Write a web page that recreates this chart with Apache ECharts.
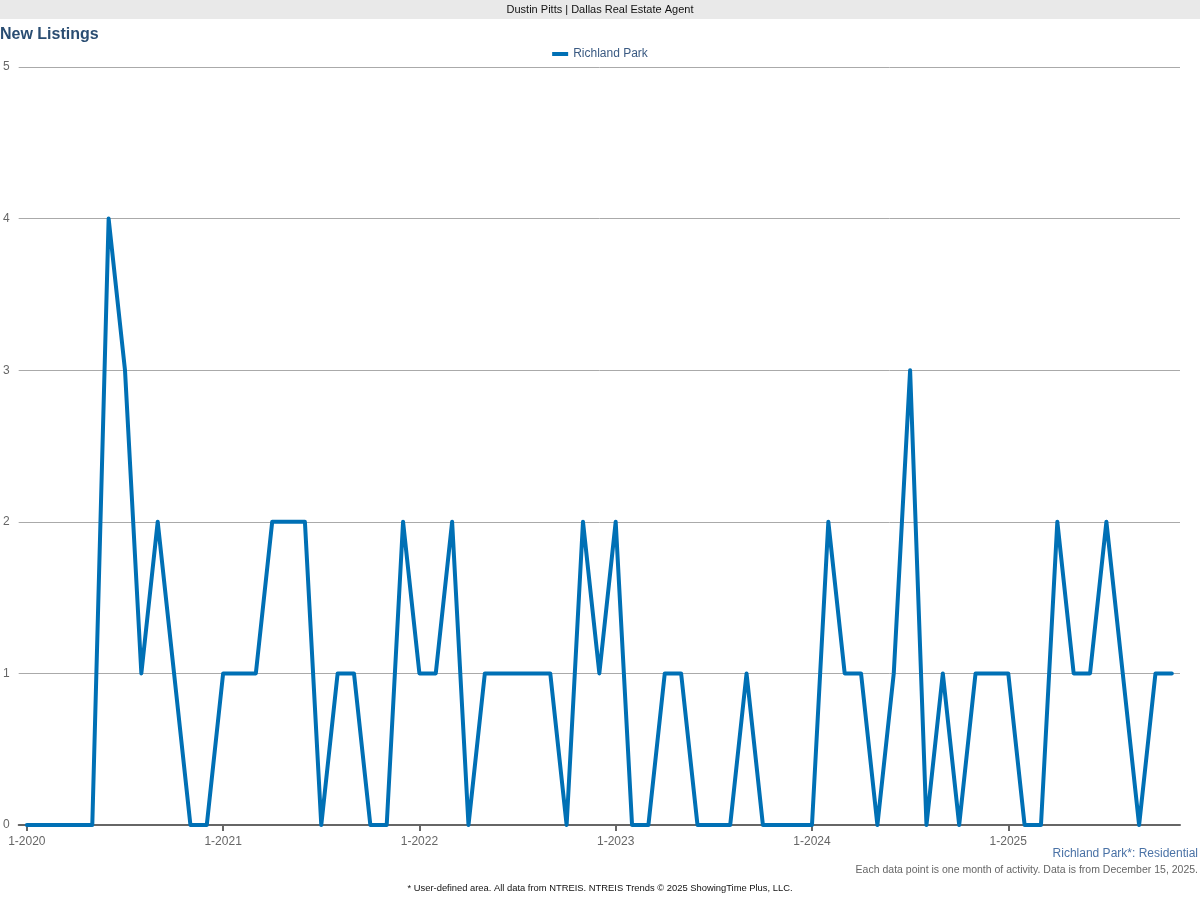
<!DOCTYPE html>
<html><head><meta charset="utf-8">
<script src="https://cdn.jsdelivr.net/npm/echarts@6/dist/echarts.min.js"></script>
<style>html,body{margin:0;padding:0;background:#fff}#c{width:1200px;height:900px}</style>
</head><body><div id="c"></div>
<script>
const years = [2020, 2021, 2022, 2023, 2024, 2025];
const lastMonth = 11; // Nov 2025
const seriesName = 'Richland Park';
const values = [
  0,0,0,0,0,4,3,1,2,1,0,0,
  1,1,1,2,2,2,0,1,1,0,0,2,
  1,1,2,0,1,1,1,1,1,0,2,1,
  2,0,0,1,1,0,0,0,1,0,0,0,
  0,2,1,1,0,1,3,0,1,0,1,1,
  1,0,0,2,1,1,2,1,0,1,1
];
const yTicks = [0,1,2,3,4,5];

const categories = [];
years.forEach(y => {
  for (let m = 1; m <= 12; m++) {
    if (y === 2025 && m > lastMonth) break;
    categories.push(m + '-' + y);
  }
});

const FONT = '"Liberation Sans", Arial, sans-serif';
const chart = echarts.init(document.getElementById('c'), null, {renderer: 'canvas'});
chart.setOption({
  backgroundColor: '#fff',
  animation: false,
  textStyle: {fontFamily: FONT},
  graphic: [
    {type: 'rect', shape: {x: 0, y: 0, width: 1200, height: 19}, style: {fill: '#e9e9e9'}},
    {type: 'text', left: 'center', top: 4, style: {text: 'Dustin Pitts | Dallas Real Estate Agent', font: '11px ' + FONT, fill: '#111'}},
    {type: 'text', left: 0, top: 27, style: {text: 'New Listings', font: 'bold 16px ' + FONT, fill: '#2a4d72'}},
    {type: 'text', right: 2, top: 848, style: {text: 'Richland Park*: Residential', font: '12px ' + FONT, fill: '#4a72a6'}},
    {type: 'text', right: 2, top: 865, style: {text: 'Each data point is one month of activity. Data is from December 15, 2025.', font: '10.5px ' + FONT, fill: '#666'}},
    {type: 'text', left: 'center', top: 884, style: {text: '* User-defined area. All data from NTREIS. NTREIS Trends \u00a9 2025 ShowingTime Plus, LLC.', font: '9.4px ' + FONT, fill: '#111'}}
  ],
  legend: {
    top: 43, left: 'center',
    data: [{name: seriesName, icon: 'rect'}],
    itemWidth: 16, itemHeight: 4, itemGap: 6,
    textStyle: {color: '#3a5a82', fontSize: 12, fontFamily: FONT}
  },
  grid: {left: 18, right: 20, top: 67, bottom: 75, containLabel: false},
  xAxis: {
    type: 'category',
    data: categories,
    boundaryGap: true,
    axisLine: {lineStyle: {color: '#666', width: 2}},
    axisTick: {show: true, alignWithLabel: true, length: 6, lineStyle: {color: '#666', width: 2},
      interval: (i) => i % 12 === 0},
    axisLabel: {interval: (i) => i % 12 === 0, color: '#666', fontSize: 12, margin: 11, fontFamily: FONT},
    splitLine: {show: false}
  },
  yAxis: {
    type: 'value', min: 0, max: 5, interval: 1,
    axisLine: {show: false}, axisTick: {show: false},
    axisLabel: {color: '#666', fontSize: 12, margin: 9, fontFamily: FONT},
    splitLine: {lineStyle: {color: '#aaa', width: 1}}
  },
  series: [{
    name: seriesName, type: 'line', data: values,
    showSymbol: false, symbol: 'none',
    lineStyle: {color: '#0070b5', width: 4, join: 'round', cap: 'round'},
    itemStyle: {color: '#0070b5'}
  }]
});
</script></body></html>
